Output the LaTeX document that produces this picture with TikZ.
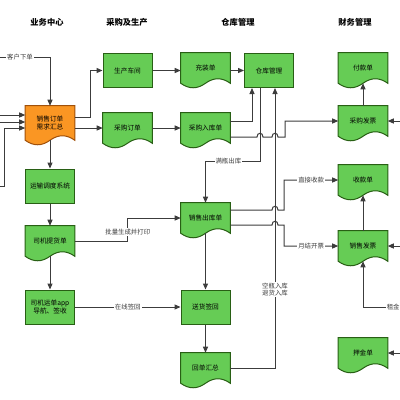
\documentclass[tikz,border=0pt]{standalone}
\usepackage{fontspec}
\setmainfont{Noto Sans CJK SC}
\usetikzlibrary{arrows.meta,calc,backgrounds}
\definecolor{boxgreen}{RGB}{102,204,85}
\definecolor{boxedge}{RGB}{40,95,20}
\definecolor{ordfill}{RGB}{250,150,35}
\definecolor{ordedge}{RGB}{160,80,10}
\definecolor{linegray}{RGB}{60,60,60}
\newcommand{\docnode}[5][docline]{\node[docbox,#2] at (#3) (#4) {#5};
	\begin{pgfonlayer}{background}
	\draw[#1] (#4.south east) -- (#4.north east) -- (#4.north west) -- (#4.south west)
		.. controls ($(#4.south west)!1/6!(#4.south east)+(0,6)$) and ($(#4.south west)!1/3!(#4.south east)+(0,6)$) .. (#4.south)
		.. controls ($(#4.south west)!2/3!(#4.south east)+(0,-6)$) and ($(#4.south west)!5/6!(#4.south east)+(0,-6)$) .. (#4.south east) -- cycle;
	\end{pgfonlayer}}

\begin{document}
\begin{tikzpicture}[x=0.75pt,y=-0.75pt,
		proc/.style={rectangle,draw=boxedge,fill=boxgreen,line width=0.75pt,minimum width=36.75pt,minimum height=25.5pt,inner sep=1pt,font=\fontsize{5}{6}\selectfont,align=center},
		docbox/.style={rectangle,minimum width=36.75pt,minimum height=22.5pt,inner sep=1pt,font=\fontsize{5}{6}\selectfont,align=center},
		docline/.style={draw=boxedge,fill=boxgreen,line width=0.75pt},
		orderline/.style={draw=ordedge,fill=ordfill,line width=0.75pt},
		conn/.style={draw=linegray,line width=0.75pt,-{Triangle[length=4.5pt,width=3.8pt]}},
		lbl/.style={fill=white,inner sep=0.8pt,font=\fontsize{4.8}{5.6}\selectfont,text=linegray,align=center},
		colhead/.style={font=\bfseries\fontsize{6.2}{7}\selectfont}]
				\useasboundingbox (0,0) rectangle (400,400);
				\node[colhead] (hdsales) at (47,22) {业务中心};
				\node[colhead] (hdbuy) at (127,22) {采购及生产};
				\node[colhead] (hdstore) at (238,22) {仓库管理};
				\node[colhead] (hdfin) at (355,22) {财务管理};
				
				% business centre
				\docnode[orderline]{minimum height=25.5pt}{50,123}{order}{销售订单\\需求汇总}
				\node[proc] (trans) at (50,186) {运输调度系统};
				\docnode{}{50,241}{pickup}{司机提货单}
				\node[proc] (appnode) at (50,307) {司机运单app\\导航、签收};
				
				% purchase and production
				\node[proc] (prodshop) at (127.5,70.5) {生产车间};
				\docnode{}{127.5,128}{purord}{采购订单}
				
				% warehouse
				\docnode{}{205.5,68}{charge}{充装单}
				\node[proc] (whmgr) at (269,70.5) {仓库管理};
				\docnode{}{205.5,128}{purin}{采购入库单}
				\docnode{}{205.5,218}{outbill}{销售出库单}
				\node[proc] (signback) at (205.5,307) {送货签回};
				\docnode{}{205.5,368}{retsum}{回单汇总}
				
				% finance
				\docnode{}{363,68}{payment}{付款单}
				\docnode{}{363,121}{purinv}{采购发票}
				\docnode{}{363,180}{receipt}{收款单}
				\docnode{}{363,246}{salinv}{销售发票}
				\docnode{}{363,353}{deposit}{押金单}
				
				\coordinate (cust) at (0,57);
				\coordinate (inA) at (0,115);
				\coordinate (inB) at (0,122);
				\coordinate (inC) at (0,186);
				\coordinate (rinA) at (400,121);
				\coordinate (rinB) at (400,246);
				\coordinate (rent) at (400,307);
				\coordinate (rinC) at (400,353);
				\coordinate (whA) at ($(whmgr.south)+(-17,0)$);
				\coordinate (whB) at ($(whmgr.south)+(-9,0)$);
				\coordinate (whC) at ($(whmgr.south)+(6,0)$);
				
				\draw[conn] (cust) -| (order.north) node[lbl,pos=0.2]{客户下单};
				\draw[conn] (inA) -- ($(order.west)+(0,-8)$);
				\draw[conn] (inB) -- ($(order.west)+(0,-1)$);
				\draw[conn] (inC) -- ++(4,0) |- ($(order.west)+(0,5)$);
				\draw[conn] ($(order.east)+(0,-6)$) -- ++(16,0) |- (prodshop.west);
				\draw[conn] (order.east |- purord.west) -- (purord.west);
				\draw[conn] (order.south) -- (trans.north);
				\draw[conn] (trans) -- (pickup);
				\draw[conn] (pickup.south) -- (appnode.north);
				\draw[conn] (pickup.east) -- ++(53,0) |- (outbill.west) node[lbl,pos=0.2]{批量生成并打印};
				\draw[conn] (appnode) -- (signback) node[lbl,midway]{在线签回};
				
				\draw[conn] (prodshop.east) -- (charge.west |- prodshop.east);
				\draw[conn] (charge.east |- whmgr.west) -- (whmgr.west);
				\draw[conn] (purord) -- (purin);
				\draw[conn] ($(purin.east)+(0,-7)$) -| (whA);
				\draw[conn] ($(purin.east)+(0,9)$) -- (257,137) .. controls (257,132) and (263,132) .. (263,137)
					-- (272,137) .. controls (272,132) and (278,132) .. (278,137) -- (285,137) |- (purinv.west);
				\draw[conn] (whB) -- ++(0,73) -| (outbill.north) node[lbl,pos=0.29]{满瓶出库};
				\draw[conn] (outbill.south) -- (signback.north);
				\draw[conn] (signback) -- (retsum);
				\draw[conn] (retsum.east) -| (whC) node[lbl,pos=0.64]{空瓶入库\\退货入库};
				\draw[conn] ($(outbill.east)+(0,-8)$) -- (272,210) .. controls (272,205) and (278,205) .. (278,210)
					-- (284,210) |- (receipt.west) node[lbl,pos=0.75]{直接收款};
				\draw[conn] ($(outbill.east)+(0,7)$) -- (272,225) .. controls (272,220) and (278,220) .. (278,225)
					-- (284,225) |- (salinv.west) node[lbl,pos=0.75]{月结开票};
				
				\draw[conn] (purinv.north) -- (payment.south);
				\draw[conn] (salinv.north) -- (receipt.south);
				\draw[conn] (rinA) -- (purinv.east);
				\draw[conn] (rinB) -- (salinv.east);
				\draw[conn] (rinC) -- (deposit.east);
				\draw[conn] (rent) -| (salinv.south) node[lbl,anchor=west,pos=0.2]{租金};
\end{tikzpicture}
\end{document}
